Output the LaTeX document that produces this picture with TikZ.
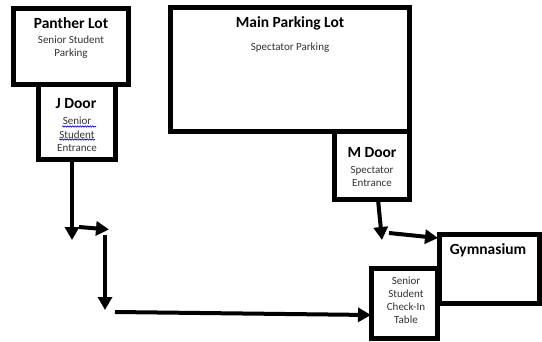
\documentclass[tikz,border=0pt]{standalone}
\usepackage{fontspec}
\setmainfont{Carlito}
\usetikzlibrary{arrows.meta,decorations.pathmorphing}
\begin{document}
\begin{tikzpicture}[x=1pt,y=-1pt,
  box/.style={draw=black, line width=5pt, fill=white, inner sep=0pt},
  flow/.style={line width=4pt, -{Triangle[length=13pt,width=14pt]}},
  ttl/.style={font=\fontsize{15.5}{18}\selectfont\bfseries, inner sep=0pt},
  sub/.style={font=\fontsize{11}{13}\selectfont, text=black!80, inner sep=0pt, align=center},
  spell/.style={draw=blue!75!black, line width=0.6pt, decorate, decoration={snake, amplitude=0.7pt, segment length=2.5pt}}
]
\useasboundingbox (0,0) rectangle (542,341);
\fill[white] (0,0) rectangle (542,341);

% boxes
\node[box, minimum width=115pt, minimum height=76pt] (panther) at (71,46.5) {};
\node[box, minimum width=76.5pt, minimum height=75pt] (jdoor) at (76.75,122) {};
\node[box, minimum width=239pt, minimum height=124pt] (main) at (290,69.5) {};
\node[box, minimum width=75pt, minimum height=68pt] (mdoor) at (372,165.5) {};
\node[box, minimum width=100pt, minimum height=69pt] (gym) at (489.5,269) {};
\node[box, minimum width=65.5pt, minimum height=70pt] (checkin) at (404.25,303.5) {};

% texts
\node[ttl] (pantherT) at (71,23) {Panther Lot};
\node[sub] (pantherS) at (71,47.5) {Senior Student\\Parking};
\node[ttl] (jdoorT) at (76,104) {J Door};
\node[sub, font=\fontsize{11}{13.5}\selectfont] (jdoorS) at (77,134.5) {Senior\\Student\\Entrance};
\draw[spell] (62,126.5) -- (96,126.5);
\draw[spell] (59,139.5) -- (95,139.5);
\node[ttl] (mainT) at (290,23) {Main Parking Lot};
\node[sub] (mainS) at (290,48) {Spectator Parking};
\node[ttl] (mdoorT) at (372,153) {M Door};
\node[sub] (mdoorS) at (372,176.5) {Spectator\\Entrance};
\node[ttl] (gymT) at (488,250) {Gymnasium};
\node[sub] (checkinS) at (406,300.5) {Senior\\Student\\Check-In\\Table};

% arrows
\coordinate (a1e) at (72,240);
\coordinate (a2s) at (79,227);
\coordinate (a2e) at (109,229.5);
\coordinate (a3s) at (105,235);
\coordinate (a3e) at (105,310);
\coordinate (a4s) at (115,312);
\coordinate (a4e) at (371,315);
\coordinate (a5s) at (378,199.5);
\coordinate (a5e) at (382,240);
\coordinate (a6s) at (389,233);
\coordinate (a6e) at (438,238);
\draw[flow] (jdoor.south -| a1e) -- (a1e);
\draw[flow] (a2s) -- (a2e);
\draw[flow] (a3s) -- (a3e);
\draw[flow] (a4s) -- (a4e);
\draw[flow] (a5s) -- (a5e);
\draw[flow] (a6s) -- (a6e);
\end{tikzpicture}
\end{document}
